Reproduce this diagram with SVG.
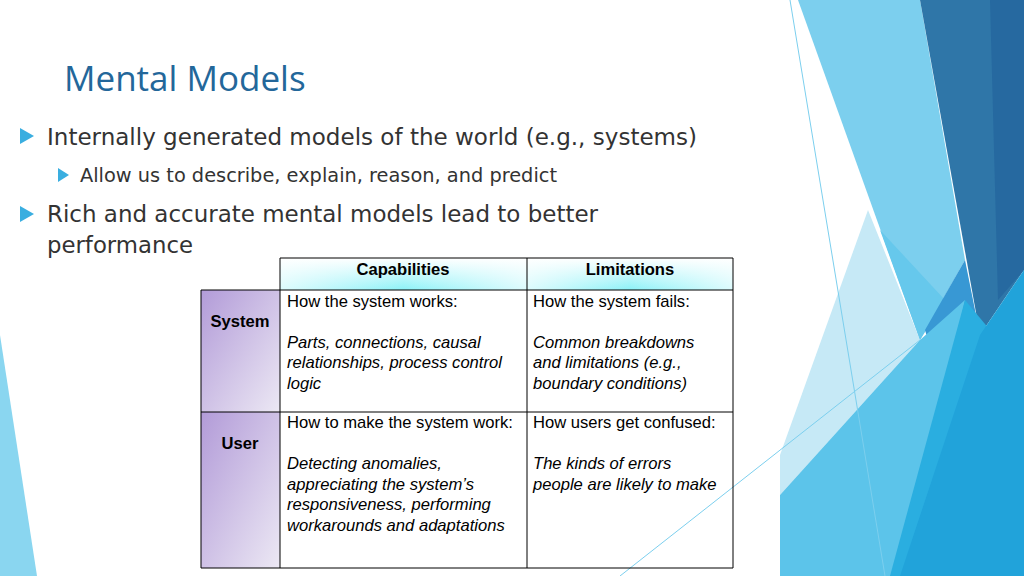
<svg xmlns="http://www.w3.org/2000/svg" width="1024" height="576" viewBox="0 0 1024 576">
<defs>
<linearGradient id="hd" x1="0" y1="0" x2="0" y2="1"><stop offset="0" stop-color="#ffffff"/><stop offset="1" stop-color="#8cf2f8"/></linearGradient>
<linearGradient id="hdh" x1="0" y1="0" x2="1" y2="0"><stop offset="0" stop-color="#ffffff" stop-opacity="0.7"/><stop offset="0.5" stop-color="#ffffff" stop-opacity="0"/><stop offset="1" stop-color="#ffffff" stop-opacity="0.7"/></linearGradient>
<linearGradient id="lc" x1="0" y1="0" x2="1" y2="1"><stop offset="0" stop-color="#b29bd8"/><stop offset="1" stop-color="#ece8f4"/></linearGradient>
</defs>
<style>
.t{font-family:"DejaVu Sans",sans-serif;}
.c{font-family:"Liberation Sans",Arial,sans-serif;font-size:16.6px;fill:#000}
.b{font-weight:bold}
.i{font-style:italic}
.g{fill:none;stroke:#000;stroke-width:1}
</style>
<rect width="1024" height="576" fill="#fff"/>
<g id="decor">
<polygon points="0,335 37,576 0,576" fill="#8ad6f0"/>
<polygon points="798,0 920,0 965,260 920,340" fill="#7ccfee"/>
<polygon points="868,210 920,340 780,495 780,455" fill="#c6e9f6"/>
<polygon points="880,230 945,300 920,340" fill="#66c8ec"/>
<polygon points="920,0 1024,0 1024,270 980,335" fill="#2f76a8"/>
<polygon points="990,0 1024,0 1024,270 998,300" fill="#2669a0"/>
<polygon points="965,260 980,335 945,400 925,330" fill="#3898d4"/>
<polygon points="920,340 965,300 905,576 780,576 780,495" fill="#5cc4ea"/>
<polygon points="965,300 990,330 930,576 890,576" fill="#2aaee0"/>
<polygon points="1024,270 1024,576 900,576 980,335" fill="#21a3da"/>
<line x1="790" y1="0" x2="885" y2="576" stroke="#7ccfee" stroke-width="1"/>
<line x1="620" y1="576" x2="920" y2="340" stroke="#7ccfee" stroke-width="1"/>
</g>
<g id="title"><text x="64" y="91" font-size="35" fill="#23679a" font-family="'Open Sans',sans-serif">Mental Models</text></g>
<g id="bullets" class="t" fill="#333">
<polygon points="20,128 34,136 20,144" fill="#3aaee0"/>
<text x="47" y="145" font-size="23" textLength="650" lengthAdjust="spacingAndGlyphs">Internally generated models of the world (e.g., systems)</text>
<polygon points="58,168 69,175 58,182" fill="#3aaee0"/>
<text x="80" y="182" font-size="19" textLength="477" lengthAdjust="spacingAndGlyphs">Allow us to describe, explain, reason, and predict</text>
<polygon points="20,206 34,214 20,222" fill="#3aaee0"/>
<text x="47" y="222" font-size="23" textLength="551" lengthAdjust="spacingAndGlyphs">Rich and accurate mental models lead to better</text>
<text x="47" y="253" font-size="23" textLength="146" lengthAdjust="spacingAndGlyphs">performance</text>
</g>
<g id="table">
<rect x="280" y="258" width="453" height="32" fill="url(#hd)"/>
<rect x="280" y="258" width="247" height="32" fill="url(#hdh)"/>
<rect x="527" y="258" width="206" height="32" fill="url(#hdh)"/>
<rect x="201" y="290" width="79" height="122" fill="url(#lc)"/>
<rect x="201" y="412" width="79" height="156" fill="url(#lc)"/>
<path class="g" d="M280,258H733V568H201V290H733M201,412H733M280,258V568M527,258V568"/>
<text class="c b" x="403" y="275" text-anchor="middle">Capabilities</text>
<text class="c b" x="630" y="275" text-anchor="middle">Limitations</text>
<text class="c b" x="240" y="327" text-anchor="middle">System</text>
<text class="c b" x="240" y="449" text-anchor="middle">User</text>
<text class="c" x="287" y="307">How the system works:</text>
<text class="c i" x="287" y="348">Parts, connections, causal</text>
<text class="c i" x="287" y="368">relationships, process control</text>
<text class="c i" x="287" y="389">logic</text>
<text class="c" x="533" y="307">How the system fails:</text>
<text class="c i" x="533" y="348">Common breakdowns</text>
<text class="c i" x="533" y="368">and limitations (e.g.,</text>
<text class="c i" x="533" y="389">boundary conditions)</text>
<text class="c" x="287" y="428">How to make the system work:</text>
<text class="c i" x="287" y="469">Detecting anomalies,</text>
<text class="c i" x="287" y="490">appreciating the system’s</text>
<text class="c i" x="287" y="510">responsiveness, performing</text>
<text class="c i" x="287" y="531">workarounds and adaptations</text>
<text class="c" x="533" y="428">How users get confused:</text>
<text class="c i" x="533" y="469">The kinds of errors</text>
<text class="c i" x="533" y="490">people are likely to make</text>
</g>
</svg>
